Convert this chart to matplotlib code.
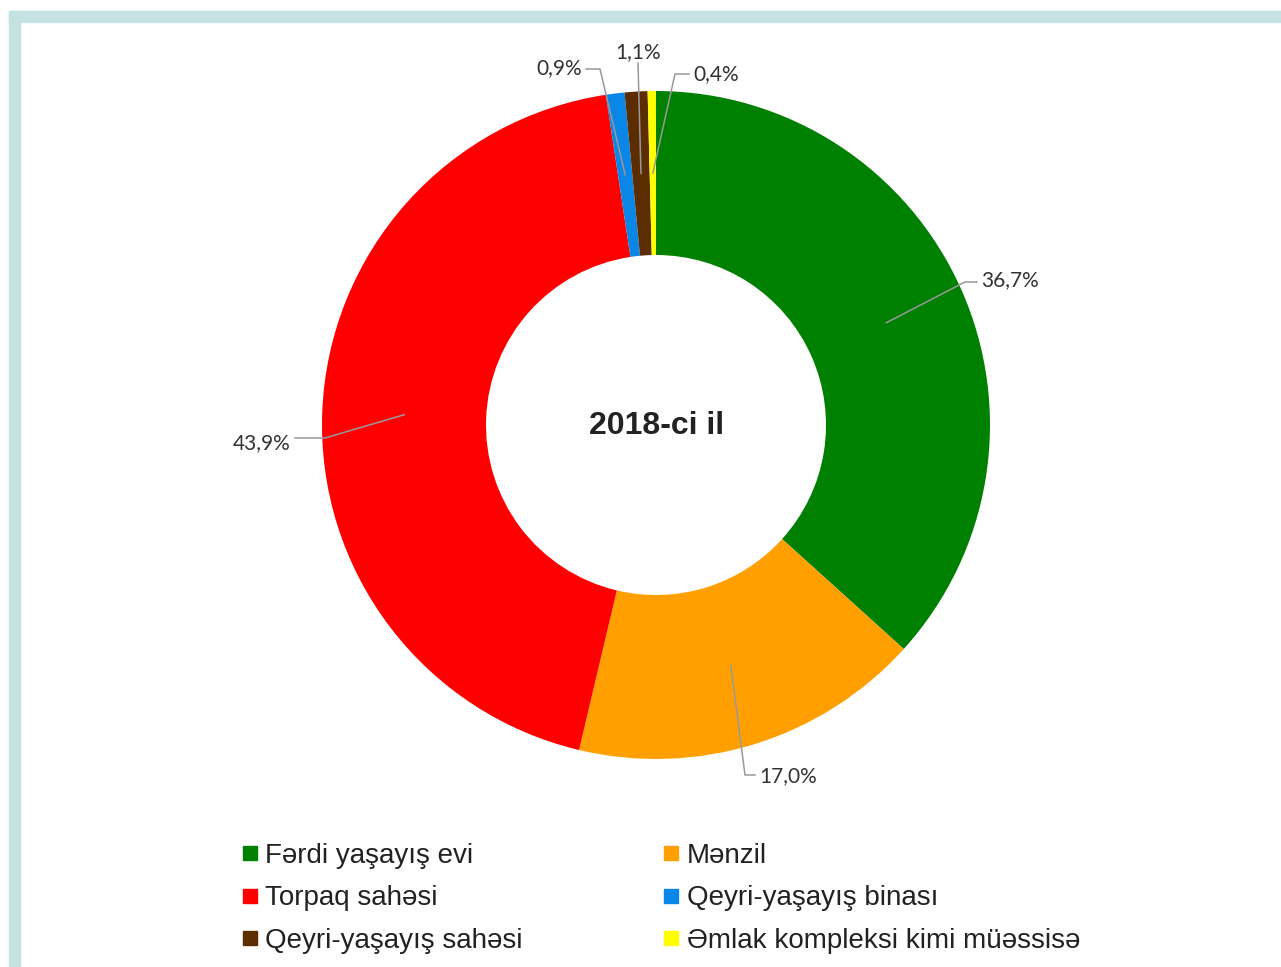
import matplotlib.pyplot as plt
from matplotlib.patches import Rectangle
from matplotlib.lines import Line2D
import numpy as np

# data
categories = ['Fərdi yaşayış evi', 'Mənzil', 'Torpaq sahəsi',
              'Qeyri-yaşayış binası', 'Qeyri-yaşayış sahəsi',
              'Əmlak kompleksi kimi müəssisə']
shares = [36.7, 17.0, 43.9, 0.9, 1.1, 0.4]
share_labels = ['36,7%', '17,0%', '43,9%', '0,9%', '1,1%', '0,4%']
colors = ['#008000', '#FFA000', '#FF0000', '#0A86E6', '#5C2D00', '#FFFF00']
center_title = '2018-ci il'

W, H = 1281, 967
fig = plt.figure(figsize=(W / 100, H / 100), dpi=100)
ax = fig.add_axes([0, 0, 1, 1])

cx, cy = 656, H - 425
R, ring = 334, 164
ax.pie(shares, colors=colors, startangle=90, counterclock=False,
       center=(cx, cy), radius=R, wedgeprops=dict(width=ring, linewidth=0))
ax.set_xlim(0, W)
ax.set_ylim(0, H)
ax.set_aspect('equal')
ax.axis('off')

ax.text(cx + 1, cy - 1, center_title, ha='center', va='center', fontsize=23,
        fontweight='bold', family='Liberation Sans', color='#222222')

# leader lines: (elbow x, elbow y, text x, text y, ha) in pixel coords from top
layout = [(965, 282, 981, 280, 'left'),
          (745, 775, 759, 776, 'left'),
          (325, 438, 291, 443, 'right'),
          (600, 69, 582, 68, 'right'),
          (638, 63, 638, 52, 'center'),
          (675, 74, 693, 74, 'left')]
mid_r = R - ring / 2
cum = np.cumsum([0] + shares[:-1])
for v, c0, lab, (ex, ey, tx, ty, ha) in zip(shares, cum, share_labels, layout):
    ang = np.deg2rad(90 - (c0 + v / 2) * 3.6)
    sx, sy = cx + mid_r * np.cos(ang), cy + mid_r * np.sin(ang)
    if ha == 'left':
        xs, ys = [sx, ex, tx - 4], [sy, H - ey, H - ey]
    elif ha == 'right':
        xs, ys = [sx, ex, tx + 4], [sy, H - ey, H - ey]
    else:
        xs, ys = [sx, ex], [sy, H - ey]
    ax.plot(xs, ys, color='#999999', lw=1.1)
    ax.text(tx, H - ty, lab, ha=ha, va='center', fontsize=15,
            family='Lato', color='#333333')

# legend
order = [0, 2, 4, 1, 3, 5]
handles = [Line2D([], [], marker='s', linestyle='none', markersize=10,
                  markerfacecolor=colors[i], markeredgecolor=colors[i])
           for i in order]
leg = ax.legend(handles, [categories[i] for i in order], ncol=2,
                loc='upper left', bbox_to_anchor=(243 / W, 1 - 843 / H),
                frameon=False, prop=dict(family='Liberation Sans', size=20),
                handlelength=0.5, handletextpad=0.3, labelspacing=0.59,
                columnspacing=5.1, borderaxespad=0, borderpad=0)
for t in leg.get_texts():
    t.set_color('#222222')

# frame bands
band = '#C3E2E1'
fig.patches.append(Rectangle((9, H - 22), W - 9, 11, transform=None,
                             color=band, zorder=0))
fig.patches.append(Rectangle((9, 0), 11, H - 11, transform=None,
                             color=band, zorder=0))

fig.savefig('out.png', dpi=100)
